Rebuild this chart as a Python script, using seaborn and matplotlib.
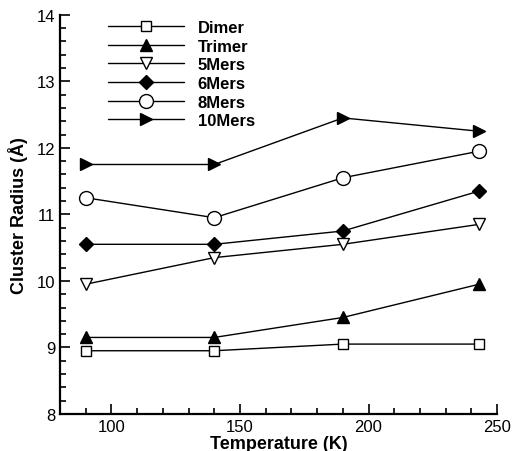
import matplotlib
matplotlib.use("Agg")
import matplotlib.pyplot as plt
from matplotlib.ticker import MultipleLocator
import seaborn as sns
import pandas as pd

temperature = [90, 140, 190, 243]
series_names = ["Dimer", "Trimer", "5Mers", "6Mers", "8Mers", "10Mers"]
dimer = [8.95, 8.95, 9.05, 9.05]
trimer = [9.15, 9.15, 9.45, 9.95]
mers5 = [9.95, 10.35, 10.55, 10.85]
mers6 = [10.55, 10.55, 10.75, 11.35]
mers8 = [11.25, 10.95, 11.55, 11.95]
mers10 = [11.75, 11.75, 12.45, 12.25]
values = [dimer, trimer, mers5, mers6, mers8, mers10]

sns.set_theme(style="ticks")
plt.rcParams["font.family"] = ["Liberation Sans", "DejaVu Sans"]
plt.rcParams["text.color"] = "black"
plt.rcParams["axes.labelcolor"] = "black"

styles = {
    "Dimer": dict(marker="s", mfc="white", ms=7.5),
    "Trimer": dict(marker="^", mfc="black", ms=8),
    "5Mers": dict(marker="v", mfc="white", ms=8),
    "6Mers": dict(marker="D", mfc="black", ms=7),
    "8Mers": dict(marker="o", mfc="white", ms=10),
    "10Mers": dict(marker=">", mfc="black", ms=8.5),
}

fig = plt.figure(figsize=(5.13, 4.52), dpi=100)
ax = fig.add_axes([0.117, 0.082, 0.852, 0.883])

for name, vals in zip(series_names, values):
    df = pd.DataFrame({"Temperature": temperature, "Radius": vals})
    st = styles[name]
    sns.lineplot(data=df, x="Temperature", y="Radius", ax=ax, color="black",
                 lw=1.0, marker=st["marker"], markersize=st["ms"],
                 markerfacecolor=st["mfc"], markeredgecolor="black",
                 markeredgewidth=1.0, label=name)

ax.set_xlim(80, 250)
ax.set_ylim(8, 14)
ax.xaxis.set_major_locator(MultipleLocator(50))
ax.xaxis.set_minor_locator(MultipleLocator(10))
ax.yaxis.set_major_locator(MultipleLocator(1))
ax.yaxis.set_minor_locator(MultipleLocator(0.2))
ax.tick_params(which="both", direction="in", width=1.2, labelsize=12,
               colors="black", labelcolor="black")
ax.tick_params(which="major", length=7)
ax.tick_params(which="minor", length=4)
for s in ["top", "right"]:
    ax.spines[s].set_visible(False)
for s in ["left", "bottom"]:
    ax.spines[s].set_linewidth(1.6)
    ax.spines[s].set_color("black")

ax.set_xlabel("Temperature (K)", fontsize=13, fontweight="bold", labelpad=1)
ax.set_ylabel("Cluster Radius (Å)", fontsize=13, fontweight="bold", labelpad=6)

leg = ax.legend(loc="upper left", bbox_to_anchor=(0.075, 1.025), frameon=False,
                handlelength=4.6, handletextpad=0.8, labelspacing=0.22,
                prop={"weight": "bold", "size": 12})

fig.savefig("out.png", dpi=100)
